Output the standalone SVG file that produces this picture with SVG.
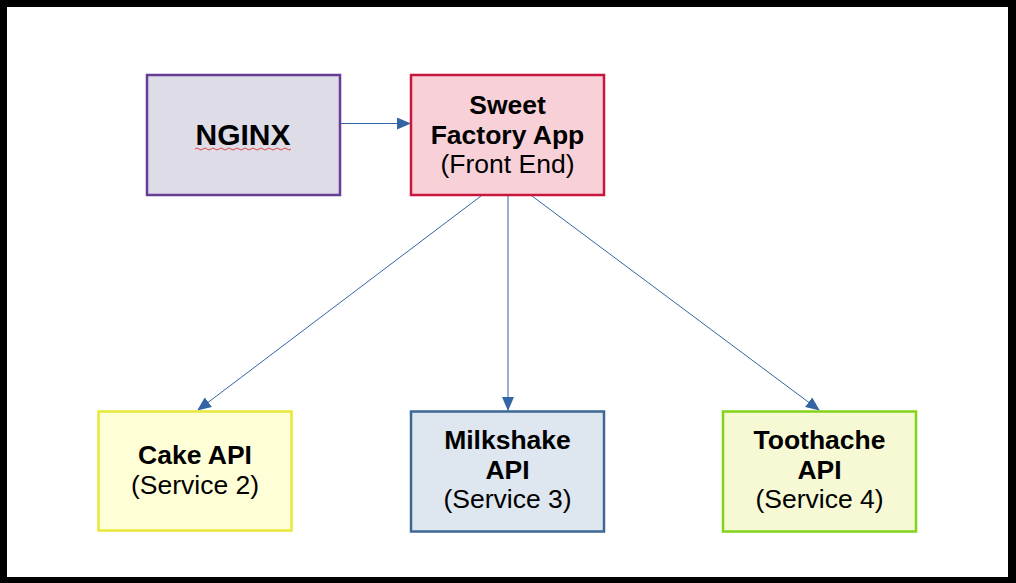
<svg xmlns="http://www.w3.org/2000/svg" width="1016" height="583" viewBox="0 0 1016 583">
<defs>
<style>
.t{font-family:"Liberation Sans",Arial,sans-serif;font-size:26.5px;fill:#000;text-anchor:middle}
.b{font-weight:bold}
.big{font-size:30px}
.box{stroke-width:2.5}
.c{stroke:#3465a4;stroke-width:1;fill:none}
</style>
<marker id="ah" markerWidth="14" markerHeight="12" refX="13" refY="6" orient="auto" markerUnits="userSpaceOnUse">
<path d="M0,0 L14,6 L0,12 Z" fill="#3465a4"/>
</marker>
</defs>
<rect x="0" y="0" width="1016" height="583" fill="#000"/>
<rect x="7" y="7" width="1001" height="570" fill="#fff"/>
<g id="connectors">
<line class="c" x1="340" y1="123.5" x2="410" y2="123.5" marker-end="url(#ah)"/>
<line class="c" x1="481" y1="196" x2="198" y2="410" marker-end="url(#ah)"/>
<line class="c" x1="508" y1="196" x2="508" y2="410" marker-end="url(#ah)"/>
<line class="c" x1="532" y1="196" x2="819" y2="410" marker-end="url(#ah)"/>
</g>
<g id="nginx">
<rect class="box" x="147" y="75" width="193" height="120" fill="#dedce6" stroke="#663e95"/>
<text class="t b big" x="243" y="145">NGINX</text>
<path d="M195,149 q2,-2 4,0 t4,0 t4,0 t4,0 t4,0 t4,0 t4,0 t4,0 t4,0 t4,0 t4,0 t4,0 t4,0 t4,0 t4,0 t4,0 t4,0 t4,0 t4,0 t4,0 t4,0 t4,0 t4,0 t4,0" fill="none" stroke="#e02020" stroke-width="0.8"/>
</g>
<g id="sweet">
<rect class="box" x="411" y="75" width="193" height="120" fill="#f8d1d8" stroke="#c9163e"/>
<text class="t b" x="507.5" y="114">Sweet</text>
<text class="t b" x="507.5" y="144">Factory App</text>
<text class="t" x="507.5" y="173">(Front End)</text>
</g>
<g id="cake">
<rect class="box" x="98.5" y="411.5" width="193" height="119" fill="#ffffd7" stroke="#e8e83a"/>
<text class="t b" x="195" y="464">Cake API</text>
<text class="t" x="195" y="494">(Service 2)</text>
</g>
<g id="milkshake">
<rect class="box" x="411" y="411.5" width="193" height="120" fill="#dee6ef" stroke="#3c6896"/>
<text class="t b" x="507.5" y="449">Milkshake</text>
<text class="t b" x="507.5" y="479">API</text>
<text class="t" x="507.5" y="508">(Service 3)</text>
</g>
<g id="toothache">
<rect class="box" x="723" y="411.5" width="193" height="120" fill="#f6f9d4" stroke="#81d41a"/>
<text class="t b" x="819.5" y="449">Toothache</text>
<text class="t b" x="819.5" y="479">API</text>
<text class="t" x="819.5" y="508">(Service 4)</text>
</g>
</svg>
